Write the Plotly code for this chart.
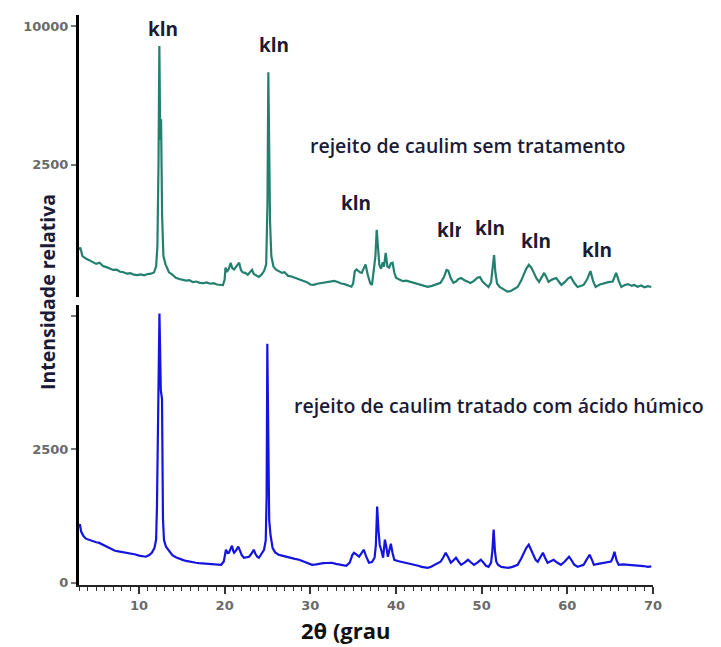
import plotly.graph_objects as go

# ---------------- data ----------------
theta_top = [3.0, 3.15, 3.4, 3.8, 4.2, 4.6, 5.0, 5.4, 5.8, 6.2, 6.6, 7.0, 7.4, 7.8, 8.2, 8.6, 9.0, 9.4, 9.8,
             10.2, 10.6, 11.0, 11.4, 11.75, 12.0, 12.15, 12.28, 12.38, 12.48, 12.58, 12.7, 12.85, 13.1, 13.5,
             13.9, 14.3, 14.7, 15.1, 15.5, 15.9, 16.3, 16.7, 17.1, 17.5, 17.9, 18.3, 18.7, 19.1, 19.5, 19.8,
             20.0, 20.1, 20.3, 20.5, 20.7, 20.9, 21.1, 21.3, 21.5, 21.7, 21.9, 22.1, 22.4, 22.7, 23.0, 23.2,
             23.4, 23.7, 24.0, 24.3, 24.6, 24.85, 25.0, 25.1, 25.2, 25.3, 25.45, 25.7, 26.0, 26.3, 26.7, 27.0,
             27.4, 27.8, 28.3, 28.7, 29.2, 29.6, 30.0, 30.4, 30.8, 31.2, 31.6, 32.0, 32.4, 32.8, 33.2, 33.6,
             34.0, 34.4, 34.8, 35.0, 35.2, 35.4, 35.6, 35.8, 36.0, 36.2, 36.45, 36.7, 37.0, 37.2, 37.45, 37.6,
             37.75, 37.9, 38.05, 38.25, 38.45, 38.6, 38.8, 39.0, 39.2, 39.4, 39.6, 39.8, 40.0, 40.4, 40.8,
             41.2, 41.7, 42.2, 42.7, 43.2, 43.7, 44.2, 44.7, 45.2, 45.6, 45.9, 46.1, 46.4, 46.7, 47.0, 47.3,
             47.6, 48.0, 48.4, 48.7, 49.1, 49.5, 49.8, 50.1, 50.5, 50.8, 51.1, 51.3, 51.45, 51.6, 51.8, 52.1,
             52.5, 53.0, 53.4, 53.8, 54.2, 54.6, 54.9, 55.2, 55.5, 55.8, 56.1, 56.4, 56.7, 57.0, 57.3, 57.55,
             57.8, 58.2, 58.7, 59.0, 59.3, 59.7, 60.1, 60.4, 60.8, 61.2, 61.6, 61.9, 62.3, 62.7, 63.0, 63.3,
             63.8, 64.3, 64.8, 65.3, 65.7, 66.0, 66.3, 66.7, 67.1, 67.5, 67.8, 68.2, 68.6, 69.0, 69.4, 69.8]
inten_top = [1064, 1090, 1000, 975, 960, 945, 925, 935, 905, 895, 880, 870, 872, 855, 850, 838, 842, 830, 826,
             832, 825, 835, 838, 848, 900, 1100, 2500, 8180, 3200, 3930, 1500, 1000, 920, 850,
             830, 805, 795, 790, 782, 785, 770, 775, 765, 762, 768, 758, 762, 752, 750, 748,
             790, 890, 860, 880, 935, 885, 875, 900, 915, 935, 870, 850, 845, 830, 850, 872,
             835, 820, 812, 830, 860, 920, 1700, 6290, 1800, 1410, 1000, 900, 872, 860, 845, 850,
             820, 815, 803, 790, 780, 770, 752, 750, 758, 762, 765, 768, 775, 780, 772, 760,
             755, 745, 736, 760, 860, 875, 860, 850, 845, 880, 920, 830, 760, 750, 880, 1000,
             1300, 1050, 920, 880, 940, 900, 1033, 900, 890, 930, 935, 850, 805, 790, 778,
             782, 772, 765, 758, 745, 735, 742, 755, 765, 810, 870, 865, 800, 765, 775, 795,
             803, 785, 770, 764, 780, 805, 810, 775, 750, 734, 770, 880, 1012, 850, 760, 735,
             720, 700, 705, 720, 734, 780, 830, 880, 916, 890, 845, 800, 772, 805, 845, 810,
             772, 790, 803, 775, 749, 770, 800, 811, 765, 734, 742, 749, 790, 860, 780, 734,
             752, 764, 770, 775, 845, 780, 734, 748, 755, 742, 749, 735, 745, 732, 740, 734]

theta_bot = [3.0, 3.1, 3.25, 3.5, 3.8, 4.2, 4.6, 5.0, 5.3, 5.7, 6.1, 6.5, 6.85, 7.2, 7.6, 8.0, 8.4, 8.8, 9.2,
             9.6, 10.0, 10.4, 10.8, 11.2, 11.5, 11.8, 12.0, 12.1, 12.22, 12.39, 12.55, 12.69, 12.8, 12.92,
             13.15, 13.5, 13.9, 14.3, 14.7, 15.1, 15.5, 15.9, 16.3, 16.65, 17.0, 17.4, 17.8, 18.2, 18.5,
             18.9, 19.3, 19.6, 19.9, 20.05, 20.15, 20.35, 20.5, 20.7, 20.85, 21.0, 21.1, 21.3, 21.6, 21.8,
             22.0, 22.25, 22.55, 22.85, 23.1, 23.4, 23.6, 23.8, 24.0, 24.3, 24.6, 24.8, 24.9, 24.98, 25.1,
             25.2, 25.35, 25.6, 25.9, 26.3, 26.7, 27.15, 27.6, 28.2, 28.7, 29.2, 29.7, 30.2, 30.7, 31.1,
             31.5, 31.9, 32.5, 33.0, 33.5, 34.2, 34.6, 34.9, 35.1, 35.4, 35.7, 36.0, 36.25, 36.5, 36.85,
             37.2, 37.5, 37.65, 37.8, 37.95, 38.1, 38.3, 38.5, 38.7, 38.85, 39.05, 39.25, 39.4, 39.6, 39.8,
             40.2, 40.6, 41.0, 41.4, 41.8, 42.2, 42.6, 43.0, 43.4, 43.7, 44.1, 44.5, 44.8, 45.2, 45.5, 45.8,
             46.1, 46.4, 46.7, 47.0, 47.3, 47.6, 48.0, 48.4, 48.7, 49.1, 49.5, 49.9, 50.2, 50.5, 50.8, 51.1,
             51.25, 51.4, 51.55, 51.7, 51.9, 52.3, 52.7, 53.1, 53.6, 54.2, 54.6, 54.9, 55.2, 55.5, 55.8,
             56.1, 56.3, 56.55, 56.85, 57.15, 57.4, 57.7, 58.0, 58.4, 58.8, 59.25, 59.7, 60.0, 60.2, 60.5,
             60.8, 61.2, 61.6, 61.9, 62.2, 62.6, 62.9, 63.1, 63.6, 64.3, 64.8, 65.1, 65.3, 65.5, 65.75,
             66.0, 66.5, 67.0, 67.4, 67.9, 68.4, 68.9, 69.4, 69.8]
inten_bot = [1034, 1100, 960, 880, 827, 800, 775, 760, 752, 720, 680, 650, 620, 600, 590, 580, 570, 564, 545,
             530, 510, 500, 489, 520, 564, 650, 808, 1430, 3100, 5040, 3600, 3440, 1200, 800,
             677, 600, 520, 480, 451, 430, 410, 395, 385, 376, 370, 365, 360, 358, 357,
             350, 345, 338, 400, 560, 620, 560, 564, 640, 696, 600, 564, 600, 677, 600,
             520, 470, 480, 489, 540, 620, 540, 490, 470, 540, 620, 800, 1617, 4474, 2200,
             1184, 900, 650, 570, 526, 510, 489, 470, 450, 432, 400, 370, 338, 345, 360,
             370, 372, 376, 355, 340, 320, 380, 520, 564, 520, 489, 560, 620, 500, 376,
             390, 470, 700, 1430, 1000, 714, 600, 470, 808, 700, 489, 620, 733, 560, 432,
             410, 395, 385, 376, 360, 345, 320, 300, 290, 282, 300, 330, 360, 395, 470, 564,
             480, 376, 420, 470, 400, 338, 380, 432, 390, 338, 380, 432, 380, 320, 301, 380,
             600, 996, 600, 400, 338, 300, 290, 282, 300, 338, 450, 564, 650, 714, 600,
             489, 430, 395, 470, 564, 470, 376, 400, 432, 380, 338, 400, 460, 489, 420,
             340, 301, 320, 338, 420, 526, 420, 338, 355, 376, 380, 400, 470, 583, 420,
             338, 345, 340, 338, 330, 320, 315, 301, 310]

top_tickvals = [2500, 10000]
top_ticktext = ["2500", "10000"]
bot_tickvals = [0, 2500, 5000]
bot_ticktext = ["0", "2500", ""]

peak_label = "kln"
label_top = "rejeito de caulim sem tratamento"
label_bot = "rejeito de caulim tratado com ácido húmico"
y_title = "Intensidade relativa"
x_title = "2θ (grau"

# ---------------- layout helpers ----------------
W, H = 721, 647
ML, MR, MT, MB = 79, 68, 15, 62
PW, PH = W - ML - MR, H - MT - MB


def px(xp):
    return (xp - ML) / PW


def py(yp):
    return (H - MB - yp) / PH


TXT = "#1b1b36"
FONT = "Open Sans"
TICKFONT = dict(family="DejaVu Sans", size=13, color="#6a6a6a", weight="bold")

fig = go.Figure()
fig.add_trace(go.Scatter(x=theta_top, y=inten_top, mode="lines", xaxis="x", yaxis="y2",
                         line=dict(color="#23806f", width=2.2), showlegend=False))
fig.add_trace(go.Scatter(x=theta_bot, y=inten_bot, mode="lines", xaxis="x", yaxis="y",
                         line=dict(color="#1414e0", width=2.2), showlegend=False))

yaxis_common = dict(showline=True, linecolor="black", linewidth=3, ticks="outside", ticklen=5,
                    tickwidth=1.5, tickcolor="#777", showgrid=False, zeroline=False,
                    tickfont=TICKFONT, tickmode="array")

fig.update_layout(
    width=W, height=H, margin=dict(l=ML, r=MR, t=MT, b=MB),
    paper_bgcolor="white", plot_bgcolor="white",
    xaxis=dict(range=[3, 70], domain=[0, 1], anchor="y", showline=True, linecolor="#222", linewidth=2,
               ticks="outside", ticklen=7, tickwidth=1.5, tickcolor="#333", tickmode="linear", tick0=0,
               dtick=10, showgrid=False, zeroline=False, tickfont=TICKFONT,
               minor=dict(ticks="outside", dtick=1, tick0=0, ticklen=4, tickcolor="#333", tickwidth=1.2)),
    yaxis=dict(domain=[0, py(305)], range=[-40, 5200], anchor="x",
               tickvals=bot_tickvals, ticktext=bot_ticktext, **yaxis_common),
    yaxis2=dict(domain=[py(297), 1], type="log", range=[2.822, 4.048], anchor="x",
                tickvals=top_tickvals, ticktext=top_ticktext, **yaxis_common),
)


def note(xp, yp, text, size, weight="bold", color=TXT, **kw):
    d = dict(x=px(xp), y=py(yp), xref="paper", yref="paper", text=text, showarrow=False,
             xanchor="center", yanchor="middle",
             font=dict(family=FONT, size=size, color=color, weight=weight))
    d.update(kw)
    return d


ann = []
kln_pos = [(163, 29), (274, 45), (356, 203), (452, 230), (490, 228), (536, 241), (597, 250)]
for i, (xp, yp) in enumerate(kln_pos):
    extra = {}
    if i == 4:
        extra = dict(bgcolor="white", borderpad=14, borderwidth=0)
    ann.append(note(xp, yp, peak_label, 19, **extra))

ann.append(note(308, 145, label_top, 19.5, weight=600, xanchor="left"))
ann.append(note(292, 405, label_bot, 19.5, weight=600, xanchor="left"))
ann.append(note(47, 292, y_title, 19.5, textangle=-90))
ann.append(note(346, 630, x_title, 22, color="#111"))
fig.update_layout(annotations=ann)

fig.write_html("out.html", config={"displayModeBar": False},
               post_script="document.body.style.margin='0';")
